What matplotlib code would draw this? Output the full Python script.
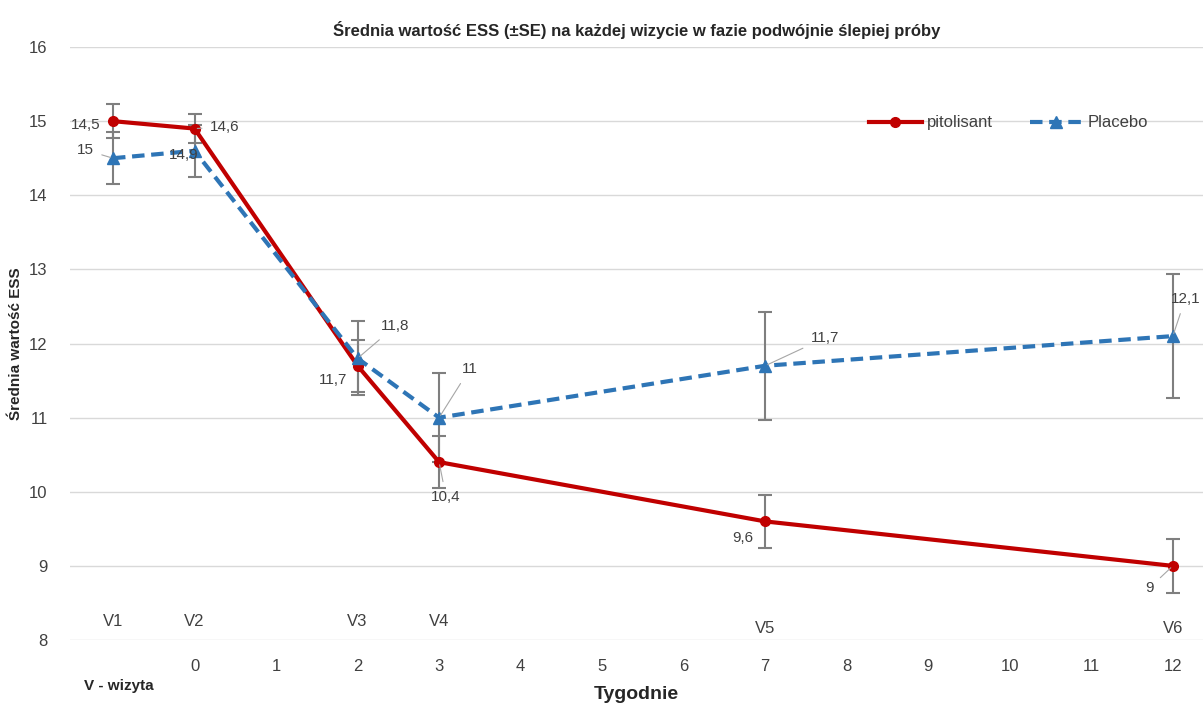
import numpy as np
import matplotlib.pyplot as plt

plt.rcParams['font.family'] = ['Liberation Sans Narrow', 'Liberation Sans', 'DejaVu Sans']

# dane
weeks = [-1, 0, 2, 3, 7, 12]
visits = ["V1", "V2", "V3", "V4", "V5", "V6"]
pitolisant = [15, 14.9, 11.7, 10.4, 9.6, 9]
pitolisant_se = [0.23, 0.2, 0.35, 0.35, 0.36, 0.36]
placebo = [14.5, 14.6, 11.8, 11, 11.7, 12.1]
placebo_se = [0.35, 0.35, 0.5, 0.6, 0.73, 0.84]
# etykiety danych tak jak na oryginale
pit_labels = ["14,5", "14,6", "11,7", "10,4", "9,6", "9"]
pla_labels = ["15", "14,9", "11,8", "11", "11,7", "12,1"]
week_ticks = list(range(0, 13))

red = "#C00000"
blue = "#2E75B6"
grey = "#7F7F7F"
txt = "#404040"

fig = plt.figure(figsize=(12.03, 7.03), dpi=100)
ax = fig.add_axes([0.058, 0.0896, 0.942, 0.8435])

ax.errorbar(weeks, pitolisant, yerr=pitolisant_se, fmt="none", ecolor=grey,
            elinewidth=1.5, capsize=5, capthick=1.5, zorder=2)
ax.errorbar(weeks, placebo, yerr=placebo_se, fmt="none", ecolor=grey,
            elinewidth=1.5, capsize=5, capthick=1.5, zorder=2)

ax.plot(weeks, pitolisant, color=red, lw=3, marker="o", ms=7, label="pitolisant", zorder=3)
ax.plot(weeks, placebo, color=blue, lw=3, ls=(0, (3, 1.6)), marker="^", ms=8,
        label="Placebo", zorder=4)

# etykiety wartości (offset w punktach)
pit_off = [(-20, -3), (22, 1), (-18, -10), (5, -25), (-16, -12), (-17, -16)]
pit_lead = [False, True, False, True, False, True]
pla_off = [(-20, 6), (-8, -3), (27, 23), (22, 35), (43, 20), (9, 27)]
pla_lead = [True, False, True, True, True, True]

def label(x, y, s, off, lead):
    ap = dict(arrowstyle="-", color="#A6A6A6", lw=0.8, shrinkA=4, shrinkB=2) if lead else None
    ax.annotate(s, (x, y), xytext=off, textcoords="offset points", fontsize=11,
                color=txt, ha="center", va="center", arrowprops=ap, zorder=5)

for i in range(len(weeks)):
    label(weeks[i], pitolisant[i], pit_labels[i], pit_off[i], pit_lead[i])
    label(weeks[i], placebo[i], pla_labels[i], pla_off[i], pla_lead[i])

ax.set_xlim(-1.53, 12.37)
ax.set_ylim(8, 16)
ax.set_yticks(range(8, 17))
ax.set_xticks(week_ticks)
ax.tick_params(length=0, labelsize=12, labelcolor=txt)
ax.tick_params(axis="x", pad=14)
ax.tick_params(axis="y", pad=16)
ax.grid(axis="y", color="#D9D9D9", lw=1)
ax.set_axisbelow(True)
for sp in ax.spines.values():
    sp.set_visible(False)

# oznaczenia wizyt
for i, v in enumerate(visits):
    yv = 8.25 if i < 4 else 8.16
    ax.text(weeks[i], yv, v, ha="center", va="center", fontsize=12, color=txt)

ax.set_title("Średnia wartość ESS (±SE) na każdej wizycie w fazie podwójnie ślepiej próby",
             fontsize=12, fontweight="bold", color="#262626", pad=8)
ax.set_ylabel("Średnia wartość ESS", fontsize=11, fontweight="bold", color="#262626", labelpad=4)
ax.set_xlabel("Tygodnie", fontsize=14, fontweight="bold", color="#262626", labelpad=8)
fig.text(0.07, 0.018, "V - wizyta", fontsize=11, fontweight="bold", color="#262626")

ax.legend(loc="upper right", bbox_to_anchor=(0.965, 0.91), ncol=2, frameon=False,
          fontsize=12, labelcolor=txt, handlelength=3.2, columnspacing=2.2, handletextpad=0.3)

fig.savefig("out.png", dpi=100)
